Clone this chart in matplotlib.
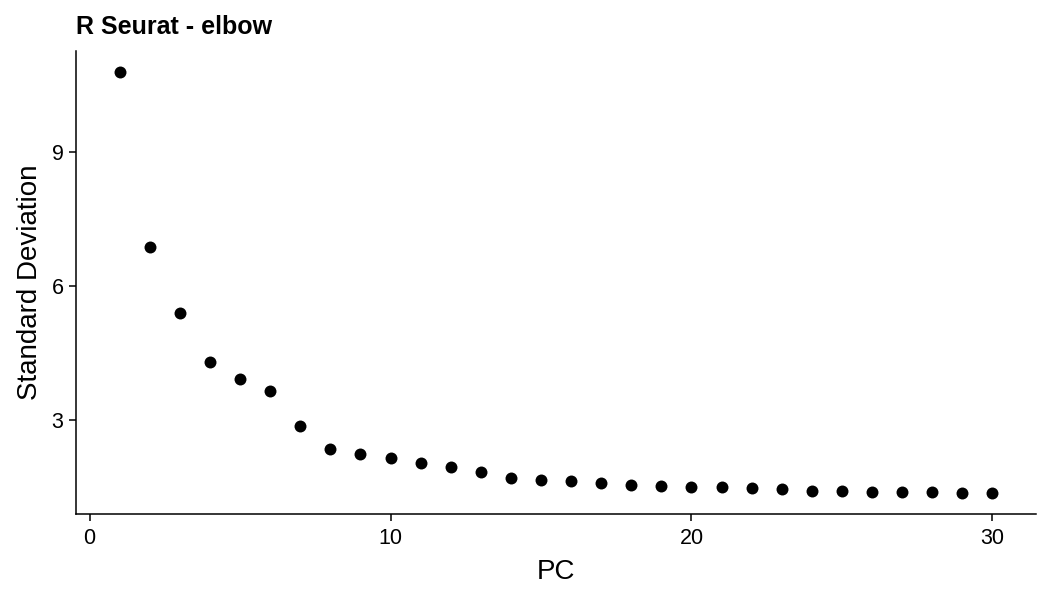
import matplotlib
matplotlib.use("Agg")
import matplotlib.pyplot as plt

# elbow values
pcs = list(range(1, 31))
std_dev = [10.79, 6.88, 5.39, 4.30, 3.91, 3.65, 2.87, 2.36, 2.25, 2.15,
           2.04, 1.95, 1.84, 1.70, 1.65, 1.64, 1.58, 1.55, 1.52, 1.51,
           1.49, 1.47, 1.45, 1.42, 1.41, 1.39, 1.38, 1.38, 1.37, 1.36]
x_ticks = [0, 10, 20, 30]
y_ticks = [3, 6, 9]

plt.rcParams['font.family'] = ['Liberation Sans', 'DejaVu Sans']

fig = plt.figure(figsize=(10.5, 6), dpi=100)
ax = fig.add_axes([0.0724, 0.1428, 0.9143, 0.7722])

ax.plot(pcs, std_dev, 'o', color='black', markersize=8.6, markeredgewidth=0)

# ggplot style 5% expansion
xr = max(pcs) - min(pcs)
yr = max(std_dev) - min(std_dev)
ax.set_xlim(min(pcs) - 0.05 * xr, max(pcs) + 0.05 * xr)
ax.set_ylim(min(std_dev) - 0.05 * yr, max(std_dev) + 0.05 * yr)
ax.set_xticks(x_ticks)
ax.set_yticks(y_ticks)

for side in ['top', 'right']:
    ax.spines[side].set_visible(False)
for side in ['left', 'bottom']:
    ax.spines[side].set_linewidth(1.1)
ax.tick_params(axis='both', length=5, width=1.1, color='black',
               labelsize=15.5, labelcolor='black', pad=4)
ax.tick_params(axis='x', pad=5)

ax.set_xlabel('PC', fontsize=20, labelpad=7)
ax.set_ylabel('Standard Deviation', fontsize=20, labelpad=6)
ax.set_title('R Seurat - elbow', loc='left', fontsize=18, fontweight='bold', pad=12)

plt.savefig('out.png', dpi=100)
